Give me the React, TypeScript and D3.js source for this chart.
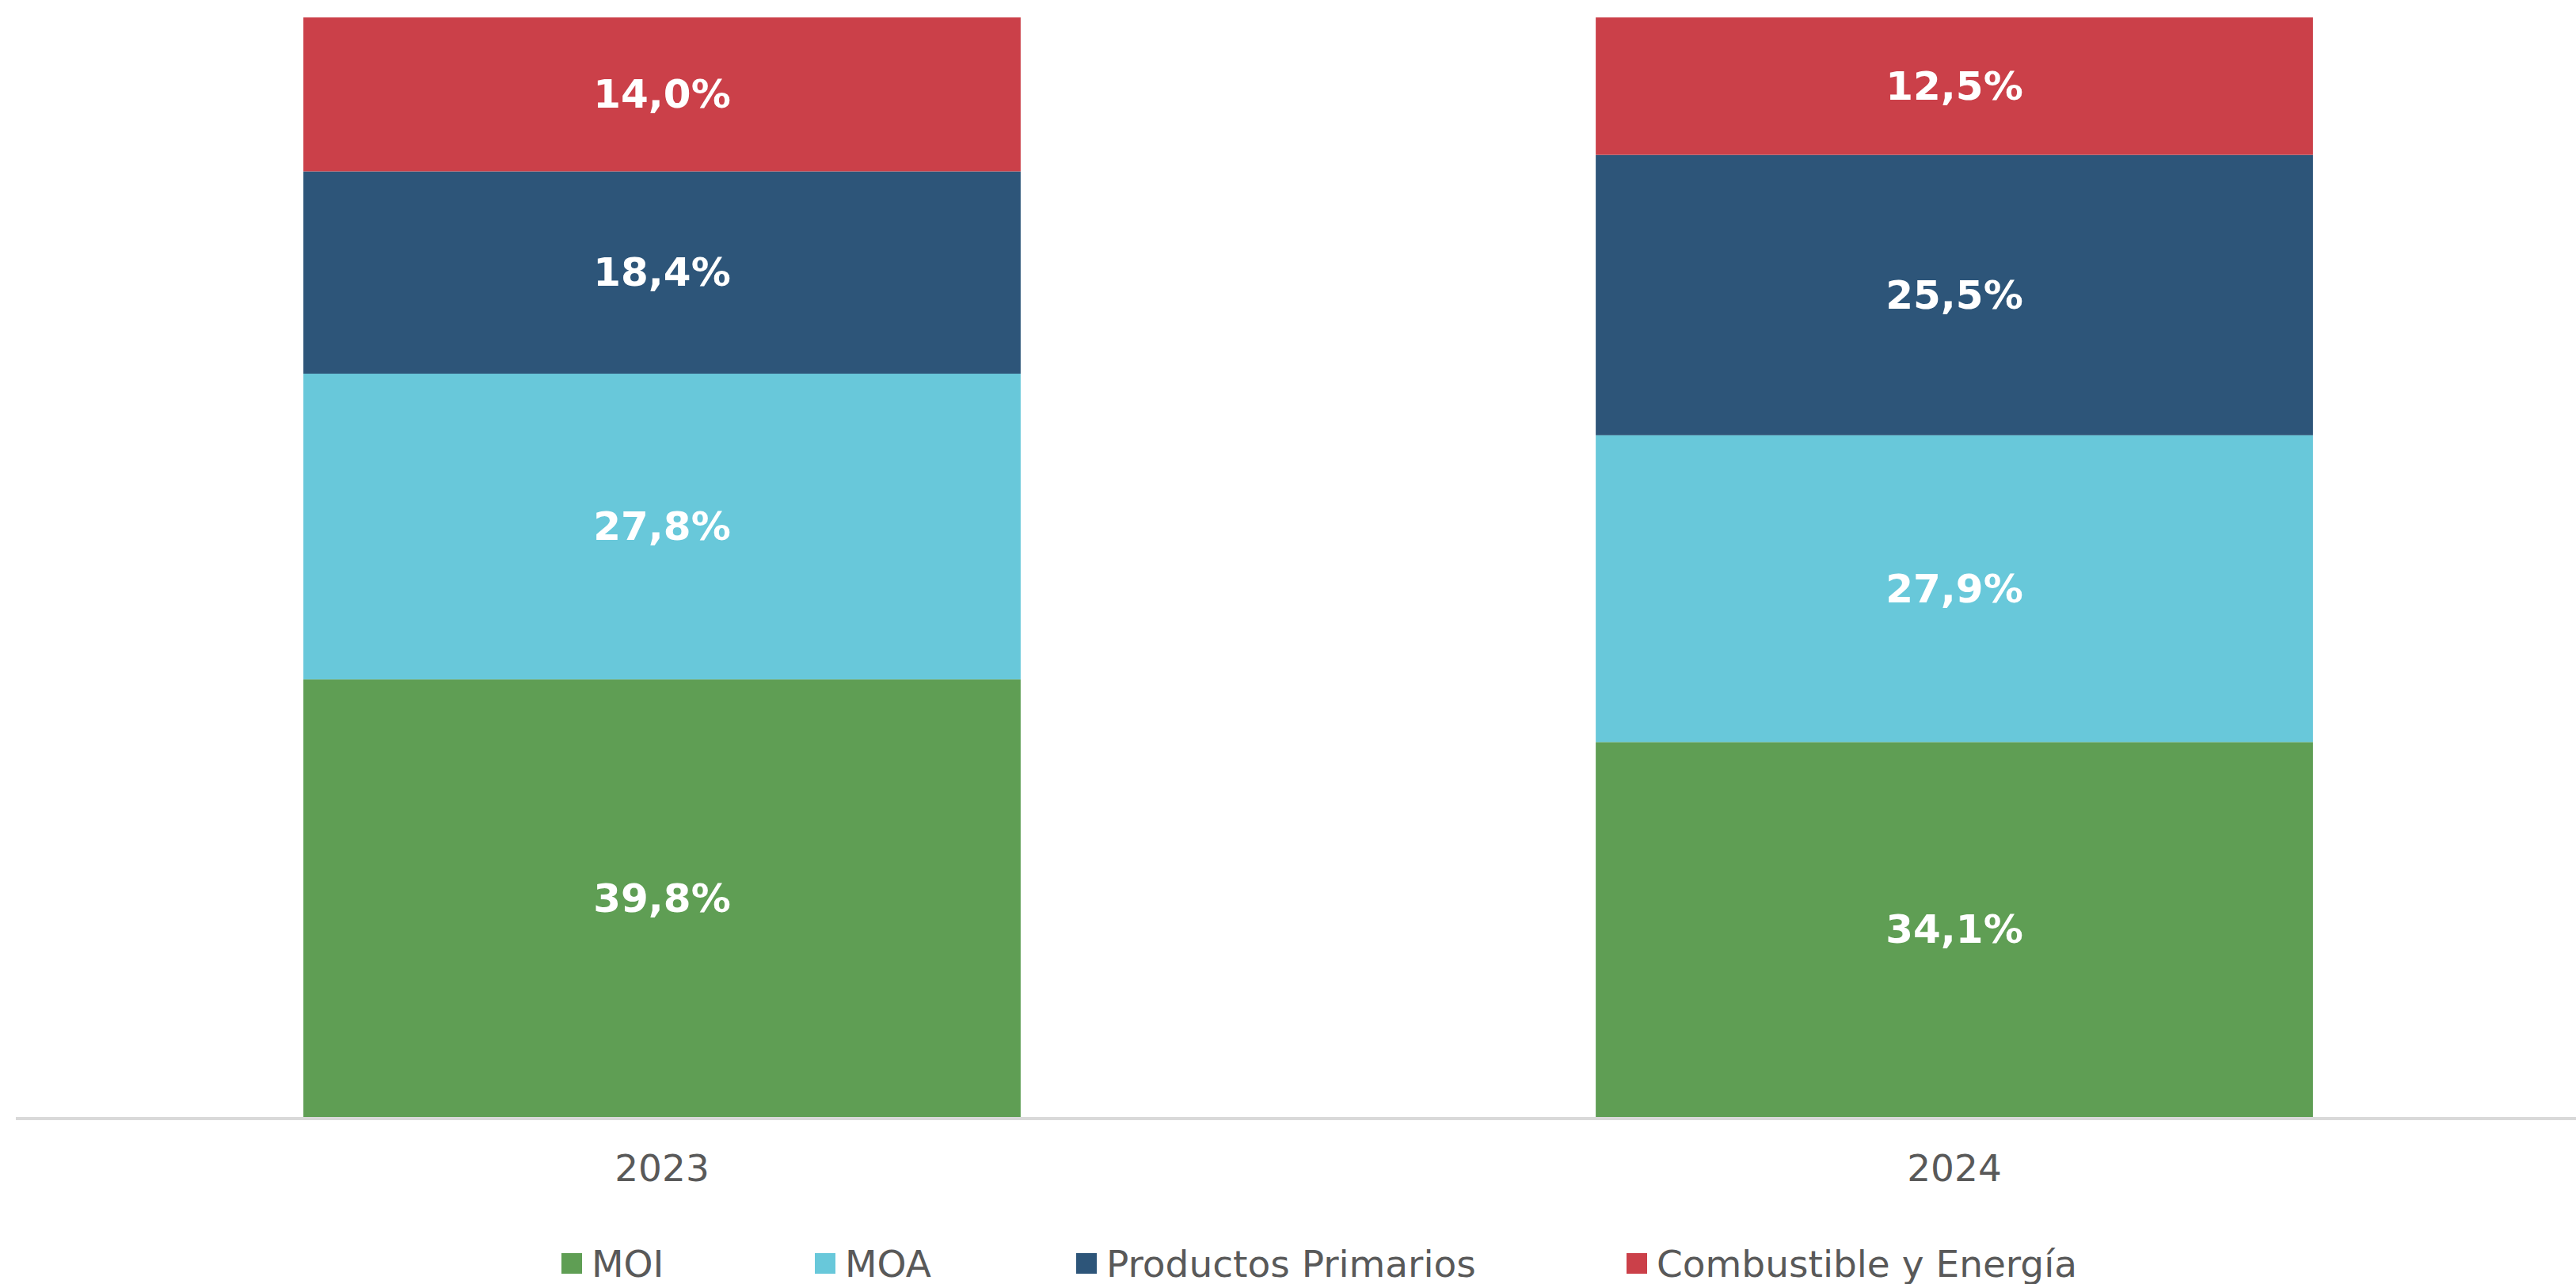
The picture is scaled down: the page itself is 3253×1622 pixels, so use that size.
import * as d3 from "d3";

const years = ["2023", "2024"];
const seriesNames = ["MOI", "MOA", "Productos Primarios", "Combustible y Energía"];
const seriesColors = ["#5f9e54", "#68c8da", "#2d5579", "#cb4049"];
const moi = [39.8, 34.1];
const moa = [27.8, 27.9];
const primarios = [18.4, 25.5];
const combustible = [14.0, 12.5];

const W = 3253;
const H = 1622;
const top = 22;
const base = 1411;
const font = "'DejaVu Sans', Verdana, sans-serif";

export default function App() {
  const values = [moi, moa, primarios, combustible];
  const rows = years.map((y, i) => {
    const r: any = { year: y };
    seriesNames.forEach((s, k) => (r[s] = values[k][i]));
    return r;
  });
  const stacked = d3.stack().keys(seriesNames)(rows);

  const x = d3
    .scaleBand()
    .domain(years)
    .range([20, 3284])
    .paddingInner(0.445)
    .paddingOuter(0.2225);
  const y = d3.scaleLinear().domain([0, 100]).range([base, top]);

  const fmt = (v: number) => v.toFixed(1).replace(".", ",") + "%";

  // legend positions (left edge of each swatch)
  const legendX = [709, 1029, 1359, 2054];
  const legendY = 1596;

  return (
    <svg
      width={W}
      height={H}
      style={{ position: "absolute", left: 0, top: 0, background: "#fff" }}
    >
      {stacked.map((layer, k) => (
        <g key={seriesNames[k]} fill={seriesColors[k]}>
          {layer.map((d: any) => (
            <rect
              key={d.data.year}
              x={x(d.data.year)}
              width={x.bandwidth()}
              y={y(d[1])}
              height={y(d[0]) - y(d[1])}
            />
          ))}
        </g>
      ))}
      {stacked.map((layer, k) => (
        <g key={"lbl" + k}>
          {layer.map((d: any) => (
            <text
              key={d.data.year}
              x={(x(d.data.year) as number) + x.bandwidth() / 2}
              y={(y(d[0]) + y(d[1])) / 2}
              textAnchor="middle"
              dominantBaseline="central"
              fill="#ffffff"
              fontFamily={font}
              fontWeight="bold"
              fontSize={50}
            >
              {fmt(d[1] - d[0])}
            </text>
          ))}
        </g>
      ))}
      <line x1={20} x2={W} y1={base + 2} y2={base + 2} stroke="#d9d9d9" strokeWidth={4} />
      {years.map((yr) => (
        <text
          key={yr}
          x={(x(yr) as number) + x.bandwidth() / 2}
          y={1492}
          textAnchor="middle"
          fill="#595959"
          fontFamily={font}
          fontSize={47}
        >
          {yr}
        </text>
      ))}
      {seriesNames.map((s, k) => (
        <g key={s}>
          <rect x={legendX[k]} y={legendY - 13} width={26} height={26} fill={seriesColors[k]} />
          <text
            x={legendX[k] + 38}
            y={legendY}
            dominantBaseline="central"
            fill="#595959"
            fontFamily={font}
            fontSize={47}
          >
            {s}
          </text>
        </g>
      ))}
    </svg>
  );
}
